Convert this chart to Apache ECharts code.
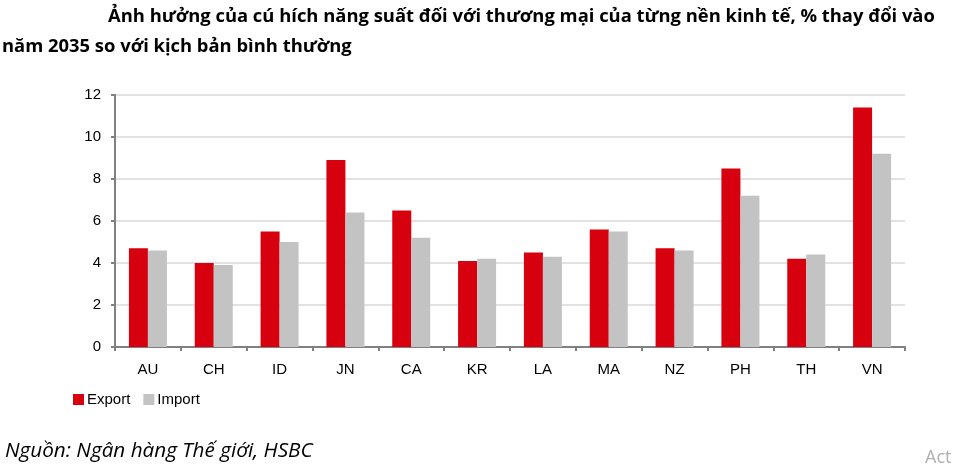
<!DOCTYPE html>
<html>
<head>
<meta charset="utf-8">
<script src="https://cdn.jsdelivr.net/npm/echarts@6/dist/echarts.min.js"></script>
<style>html,body{margin:0;padding:0;background:#fff;}#c{width:953px;height:472px;}</style>
</head>
<body>
<div id="c"></div>
<script>
const categories = ['AU','CH','ID','JN','CA','KR','LA','MA','NZ','PH','TH','VN'];
const exportValues = [4.7, 4.0, 5.5, 8.9, 6.5, 4.1, 4.5, 5.6, 4.7, 8.5, 4.2, 11.4];
const importValues = [4.6, 3.9, 5.0, 6.4, 5.2, 4.2, 4.3, 5.5, 4.6, 7.2, 4.4, 9.2];
const seriesNames = ['Export', 'Import'];
const titleLine1 = 'Ảnh hưởng của cú hích năng suất đối với thương mại của từng nền kinh tế, % thay đổi vào';
const titleLine2 = 'năm 2035 so với kịch bản bình thường';
const sourceText = 'Nguồn: Ngân hàng Thế giới, HSBC';

const chart = echarts.init(document.getElementById('c'), null, {renderer: 'canvas'});
chart.setOption({
  backgroundColor: '#fff',
  animation: false,
  title: [
    {text: titleLine1, left: 103, top: 3, textStyle: {fontFamily: 'Open Sans', fontWeight: 'bold', fontSize: 18.4, color: '#000'}},
    {text: titleLine2, left: -3, top: 33, textStyle: {fontFamily: 'Open Sans', fontWeight: 'bold', fontSize: 18.4, color: '#000'}}
  ],
  graphic: [
    {type: 'text', left: 5, top: 441, style: {text: sourceText, font: 'italic 20.7px "Open Sans"', fill: '#000'}},
    {type: 'text', left: 925, top: 449, style: {text: 'Act', font: '18px "Open Sans"', fill: '#b0b0b0'}}
  ],
  legend: {
    data: seriesNames,
    left: 68, top: 387,
    itemWidth: 11, itemHeight: 11, itemGap: 13,
    icon: 'rect',
    textStyle: {fontFamily: 'Liberation Sans', fontSize: 15, color: '#000', padding: [0, 0, 0, -2]}
  },
  grid: {left: 115, right: 48, top: 95, bottom: 125},
  xAxis: {
    type: 'category',
    data: categories,
    axisLine: {lineStyle: {color: '#808080', width: 2}},
    axisTick: {show: true, length: 4, lineStyle: {color: '#808080', width: 2}},
    axisLabel: {fontFamily: 'Liberation Sans', fontSize: 15, color: '#000', margin: 15}
  },
  yAxis: {
    type: 'value',
    min: 0, max: 12, interval: 2,
    axisLine: {show: true, lineStyle: {color: '#808080', width: 2}},
    axisTick: {show: true, length: 4, lineStyle: {color: '#808080', width: 2}},
    axisLabel: {fontFamily: 'Liberation Sans', fontSize: 15, color: '#000', margin: 14},
    splitLine: {lineStyle: {color: '#e2e2e2', width: 2}}
  },
  series: [
    {name: seriesNames[0], type: 'bar', data: exportValues, barWidth: 19, barGap: '0%', itemStyle: {color: '#d7000f'}},
    {name: seriesNames[1], type: 'bar', data: importValues, barWidth: 19, barGap: '0%', itemStyle: {color: '#c3c3c3'}}
  ]
});
</script>
</body>
</html>
